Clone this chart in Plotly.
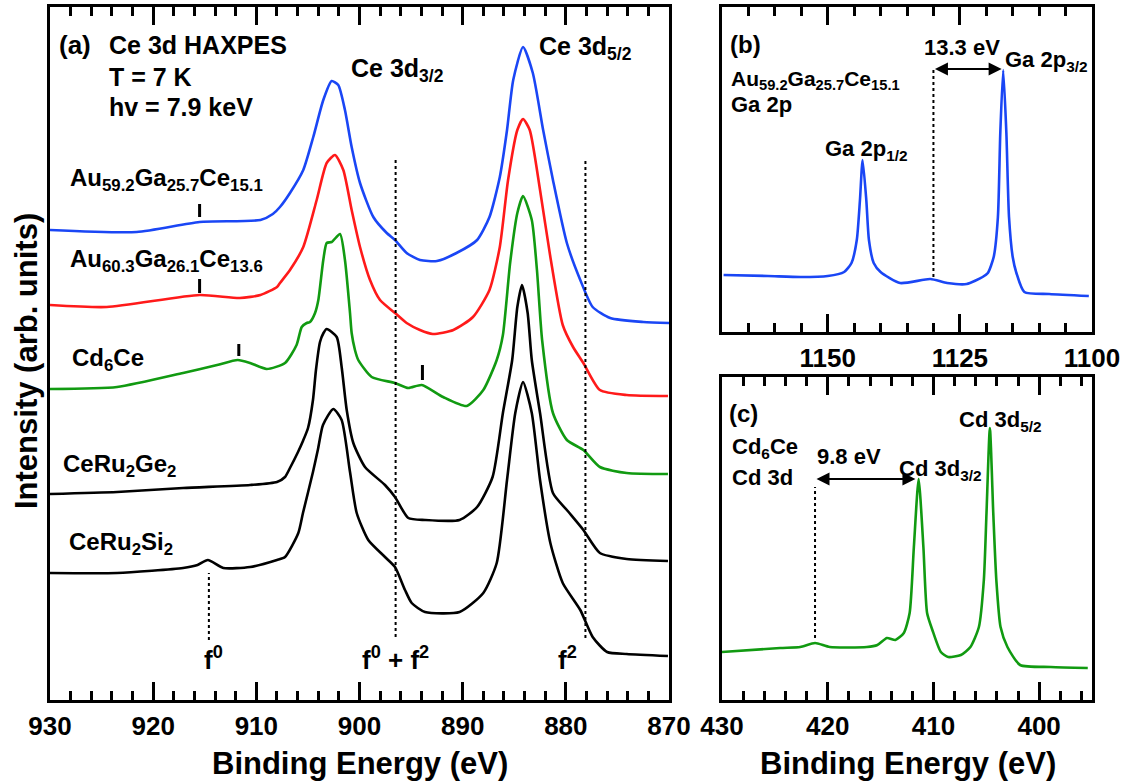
import plotly.graph_objects as go

# ---------------- Panel (a): Ce 3d HAXPES (binding energy eV, intensity arb. units, offset) -------------
au592_energy = [930.0, 921.6, 915.5, 909.6, 908.4, 907.71, 906.74, 905.45, 904.48, 903.51, 902.70, 902.06,
                901.41, 900.76, 899.95, 898.66, 897.36, 896.56, 895.43, 894.14, 892.5, 890.6, 888.6, 887.4,
                886.4, 885.7, 885.1, 884.15, 883.2, 882.2, 881.25, 879.9, 878.6, 877.4, 875.7, 872.5, 870.0]
au592_intensity = [470, 468, 478, 480, 486, 493, 507, 530, 563, 600, 619, 615,
                   590, 553, 517, 483, 467, 460, 447, 440, 439, 447, 460, 483,
                   523, 570, 620, 653, 627, 570, 520, 457, 420, 393, 382, 378, 377]

au603_energy = [930.0, 924.5, 915.5, 911.6, 909.6, 908.0, 907.71, 906.74, 905.45, 904.15, 903.18, 902.38,
                901.57, 900.76, 899.95, 898.98, 898.01, 896.56, 895.43, 894.14, 892.9, 890.9, 889.0, 887.4,
                886.4, 885.6, 884.7, 884.15, 883.5, 882.5, 881.5, 880.3, 879.3, 878.3, 876.7, 874.1, 870.1]
au603_intensity = [395, 393, 405, 402, 405, 413, 417, 430, 453, 500, 537, 545,
                   530, 490, 453, 420, 400, 387, 377, 370, 366, 370, 383, 410,
                   453, 520, 570, 581, 570, 510, 443, 375, 353, 337, 310, 305, 304]

cd6ce_energy = [930.0, 923.5, 917.1, 913.8, 911.8, 910.6, 909.0, 907.22, 906.1, 905.60, 905.12, 904.80,
                904.31, 903.99, 903.51, 903.18, 902.70, 901.89, 901.41, 900.92, 900.76, 900.44, 900.12,
                898.82, 896.56, 895.27, 893.97, 891.9, 889.6, 888.0, 886.7, 886.1, 885.4, 884.7, 884.15,
                883.3, 882.8, 882.3, 881.25, 879.9, 878.3, 876.7, 874.1, 870.1]
cd6ce_intensity = [311, 313, 327, 335, 340, 337, 331, 337, 355, 373, 377, 378,
                   387, 400, 440, 457, 458, 466, 440, 387, 367, 350, 340,
                   323, 317, 312, 315, 303, 294, 310, 340, 365, 437, 487, 504,
                   480, 430, 360, 287, 260, 250, 233, 227, 226]

ceru2ge2_energy = [930.0, 923.5, 917.1, 910.6, 908.0, 907.22, 906.74, 905.96, 905.48, 904.99, 904.51, 904.22,
                   903.83, 903.49, 903.18, 902.21, 901.73, 901.24, 900.60, 899.47, 897.53, 896.56, 895.27,
                   893.65, 890.3, 888.6, 887.1, 886.1, 885.2, 884.7, 884.25, 883.7, 883.3, 882.5, 881.25,
                   879.9, 878.3, 876.7, 874.1, 870.1]
ceru2ge2_intensity = [206, 208, 212, 215, 218, 223, 232, 248, 259, 272, 300, 330,
                      358, 367, 371, 363, 333, 290, 257, 233, 215, 203, 182,
                      180, 180, 193, 223, 287, 340, 393, 415, 387, 340, 287, 207,
                      190, 170, 147, 141, 139]

ceru2si2_energy = [930.0, 923.5, 917.1, 915.7, 914.7, 913.2, 910.6, 908.0, 907.22, 905.93, 905.48, 904.51,
                   904.02, 903.54, 902.54, 901.73, 900.92, 900.27, 899.15, 897.53, 896.56, 895.59, 894.94,
                   893.65, 890.3, 888.0, 886.7, 885.7, 884.9, 884.15, 883.3, 882.5, 881.5, 880.3, 878.6,
                   877.4, 876.0, 874.1, 870.1]
ceru2si2_intensity = [127, 127, 132, 135, 140, 132, 133, 140, 143, 167, 187, 228,
                      251, 275, 291, 280, 228, 187, 160, 143, 133, 110, 97,
                      88, 88, 107, 137, 220, 287, 318, 287, 220, 157, 117, 90,
                      63, 48, 46, 44]

# satellite markers "I" in panel (a): energy, intensity bottom, intensity top
mark_energy = [915.5, 915.5, 911.7, 893.9]
mark_low = [483, 407, 344, 320]
mark_high = [496, 421, 356, 335]

# dotted guide lines in panel (a)
guide_energy = [896.5, 878.1, 914.6]
guide_low = [63, 62, 60]
guide_high = [542, 540, 127]

# ---------------- Panel (b): Ga 2p of Au59.2Ga25.7Ce15.1 ----------------
ga_energy = [1169.7, 1161.3, 1155.1, 1150.0, 1146.9, 1145.5, 1144.5, 1143.9, 1143.4, 1142.7, 1142.2,
             1141.3, 1140.0, 1136.3, 1130.6, 1127.4, 1123.7, 1120.7, 1119.7, 1118.6, 1117.8, 1117.35,
             1116.8, 1116.2, 1115.7, 1115.0, 1114.3, 1112.8, 1108.1, 1100.6]
ga_intensity = [57, 56, 55, 56, 60, 69, 92, 132, 172, 132, 92,
                69, 60, 49, 53, 49, 48, 55, 59, 75, 115, 199,
                262, 199, 115, 75, 59, 40, 38, 36]

# ---------------- Panel (c): Cd 3d of Cd6Ce ----------------
cd_energy = [430.0, 424.5, 422.6, 421.2, 419.8, 416.3, 415.3, 414.4, 413.6, 412.8, 412.25, 411.85,
             411.4, 410.95, 410.6, 410.1, 409.3, 408.6, 407.4, 406.5, 405.7, 405.23, 404.98, 404.66,
             404.34, 404.05, 403.65, 403.0, 401.8, 398.9, 395.4]
cd_intensity = [48, 52, 53, 57, 53, 53, 55, 62, 60, 67, 87, 153,
                221, 153, 87, 70, 48, 43, 45, 53, 73, 120, 187, 272,
                187, 120, 73, 53, 35, 33, 32]

BLUE = "#1a46f5"
RED = "#ff1a1a"
GREEN = "#119a11"
BLACK = "#000000"
FONT = "Liberation Sans, Arial, sans-serif"

W, H = 1127, 782

fig = go.Figure()

def line(x, y, color, xa, ya):
    fig.add_trace(go.Scatter(x=x, y=y, mode="lines", xaxis=xa, yaxis=ya, showlegend=False,
                             hoverinfo="skip",
                             line=dict(color=color, width=2.6, shape="spline", smoothing=0.6)))

line(au592_energy, au592_intensity, BLUE, "x", "y")
line(au603_energy, au603_intensity, RED, "x", "y")
line(cd6ce_energy, cd6ce_intensity, GREEN, "x", "y")
line(ceru2ge2_energy, ceru2ge2_intensity, BLACK, "x", "y")
line(ceru2si2_energy, ceru2si2_intensity, BLACK, "x", "y")
line(ga_energy, ga_intensity, BLUE, "x2", "y2")
line(cd_energy, cd_intensity, GREEN, "x3", "y3")

tickfont = dict(family=FONT, size=26, color="black", weight="bold")

def xaxis(domain, rng, dtick, mdtick, anchor):
    return dict(domain=domain, range=rng, anchor=anchor, showline=True, linewidth=3, linecolor="black",
                mirror="ticks", ticks="inside", ticklen=18, tickwidth=3, tickcolor="black",
                tick0=0, dtick=dtick, showgrid=False, zeroline=False, tickfont=tickfont,
                ticklabelstandoff=1, automargin=False,
                minor=dict(ticks="inside", ticklen=9, tickwidth=3, tickcolor="black", dtick=mdtick,
                           tick0=0, showgrid=False))

def yaxis(domain, rng, anchor):
    return dict(domain=domain, range=rng, anchor=anchor, showline=True, linewidth=3, linecolor="black",
                mirror=True, ticks="", showticklabels=False, showgrid=False, zeroline=False,
                automargin=False)

fig.update_layout(
    width=W, height=H, margin=dict(l=0, r=0, t=0, b=0, pad=0, autoexpand=False),
    paper_bgcolor="white", plot_bgcolor="white",
    xaxis=xaxis([50 / W, 669 / W], [930, 870], 10, 2, "y"),
    yaxis=yaxis([1 - 700 / H, 1 - 7 / H], [0, 693], "x"),
    xaxis2=xaxis([722 / W, 1092 / W], [1170, 1100], 25, 5, "y2"),
    yaxis2=yaxis([1 - 332 / H, 1 - 7 / H], [0, 325], "x2"),
    xaxis3=xaxis([722 / W, 1092 / W], [430, 395], 10, 2, "y3"),
    yaxis3=yaxis([1 - 700 / H, 1 - 377 / H], [0, 323], "x3"),
)

shapes = []
for e, lo, hi in zip(mark_energy, mark_low, mark_high):
    shapes.append(dict(type="line", xref="x", yref="y", x0=e, x1=e, y0=lo, y1=hi,
                       line=dict(color="black", width=3)))
for e, lo, hi in zip(guide_energy, guide_low, guide_high):
    shapes.append(dict(type="line", xref="x", yref="y", x0=e, x1=e, y0=lo, y1=hi,
                       line=dict(color="black", width=2, dash="dot")))
shapes.append(dict(type="line", xref="x2", yref="y2", x0=1130, x1=1130, y0=55, y1=263,
                   line=dict(color="black", width=2, dash="dot")))
shapes.append(dict(type="line", xref="x3", yref="y3", x0=421.2, x1=421.2, y0=62, y1=213,
                   line=dict(color="black", width=2, dash="dot")))
fig.update_layout(shapes=shapes)

ann = []

def txt(x, y, s, xr, yr, size=24, xanchor="left"):
    ann.append(dict(x=x, y=y, xref=xr, yref=yr, text=s, showarrow=False, xanchor=xanchor,
                    yanchor="middle", font=dict(family=FONT, size=size, color="black", weight="bold")))

# panel (a)
txt(929.3, 655, "(a)", "x", "y", 26)
txt(924.5, 655, "Ce 3d HAXPES", "x", "y", 25)
txt(924.5, 623, "T = 7 K", "x", "y", 25)
txt(924.5, 593, "hv = 7.9 keV", "x", "y", 25)
txt(901.0, 630, "Ce 3d<sub>3/2</sub>", "x", "y", 25)
txt(882.8, 652, "Ce 3d<sub>5/2</sub>", "x", "y", 25)
txt(928.3, 521, "Au<sub>59.2</sub>Ga<sub>25.7</sub>Ce<sub>15.1</sub>", "x", "y", 24)
txt(928.3, 440, "Au<sub>60.3</sub>Ga<sub>26.1</sub>Ce<sub>13.6</sub>", "x", "y", 24)
txt(928.1, 341, "Cd<sub>6</sub>Ce", "x", "y", 24)
txt(928.9, 235, "CeRu<sub>2</sub>Ge<sub>2</sub>", "x", "y", 24)
txt(928.4, 157, "CeRu<sub>2</sub>Si<sub>2</sub>", "x", "y", 24)
txt(914.2, 42, "f<sup>0</sup>", "x", "y", 26, "center")
txt(896.5, 42, "f<sup>0</sup> + f<sup>2</sup>", "x", "y", 26, "center")
txt(879.8, 42, "f<sup>2</sup>", "x", "y", 26, "center")

# panel (b)
txt(1168.8, 287, "(b)", "x2", "y2", 24)
txt(1168.6, 252, "Au<sub>59.2</sub>Ga<sub>25.7</sub>Ce<sub>15.1</sub>", "x2", "y2", 21)
txt(1168.6, 227, "Ga 2p", "x2", "y2", 22)
txt(1150.9, 182, "Ga 2p<sub>1/2</sub>", "x2", "y2", 22)
txt(1132.1, 284, "13.3 eV", "x2", "y2", 22)
txt(1116.9, 271, "Ga 2p<sub>3/2</sub>", "x2", "y2", 22)

# panel (c)
txt(429.5, 287, "(c)", "x3", "y3", 24)
txt(429.2, 252, "Cd<sub>6</sub>Ce", "x3", "y3", 22)
txt(429.2, 223, "Cd 3d", "x3", "y3", 22)
txt(421.2, 244, "9.8 eV", "x3", "y3", 22)
txt(413.4, 230, "Cd 3d<sub>3/2</sub>", "x3", "y3", 22)
txt(407.8, 279, "Cd 3d<sub>5/2</sub>", "x3", "y3", 22)

# double arrows
ann.append(dict(x=1117.1, y=263, ax=1130, ay=263, xref="x2", yref="y2", axref="x2", ayref="y2",
                text="", showarrow=True, arrowhead=2, arrowside="end+start", arrowwidth=2,
                arrowsize=1.3, arrowcolor="black", standoff=0, startstandoff=0))
ann.append(dict(x=411.7, y=221, ax=421.2, ay=221, xref="x3", yref="y3", axref="x3", ayref="y3",
                text="", showarrow=True, arrowhead=2, arrowside="end+start", arrowwidth=2,
                arrowsize=1.3, arrowcolor="black", standoff=0, startstandoff=0))

# axis titles
title_font = dict(family=FONT, size=31, color="black", weight="bold")
ann.append(dict(x=360 / W, y=1 - 763 / H, xref="paper", yref="paper", text="Binding Energy (eV)",
                showarrow=False, xanchor="center", yanchor="middle", font=title_font))
ann.append(dict(x=908 / W, y=1 - 763 / H, xref="paper", yref="paper", text="Binding Energy (eV)",
                showarrow=False, xanchor="center", yanchor="middle", font=title_font))
ann.append(dict(x=26 / W, y=1 - 361 / H, xref="paper", yref="paper", text="Intensity (arb. units)",
                showarrow=False, xanchor="center", yanchor="middle", textangle=-90, font=title_font))

fig.update_layout(annotations=ann)
fig.write_html("out.html")
